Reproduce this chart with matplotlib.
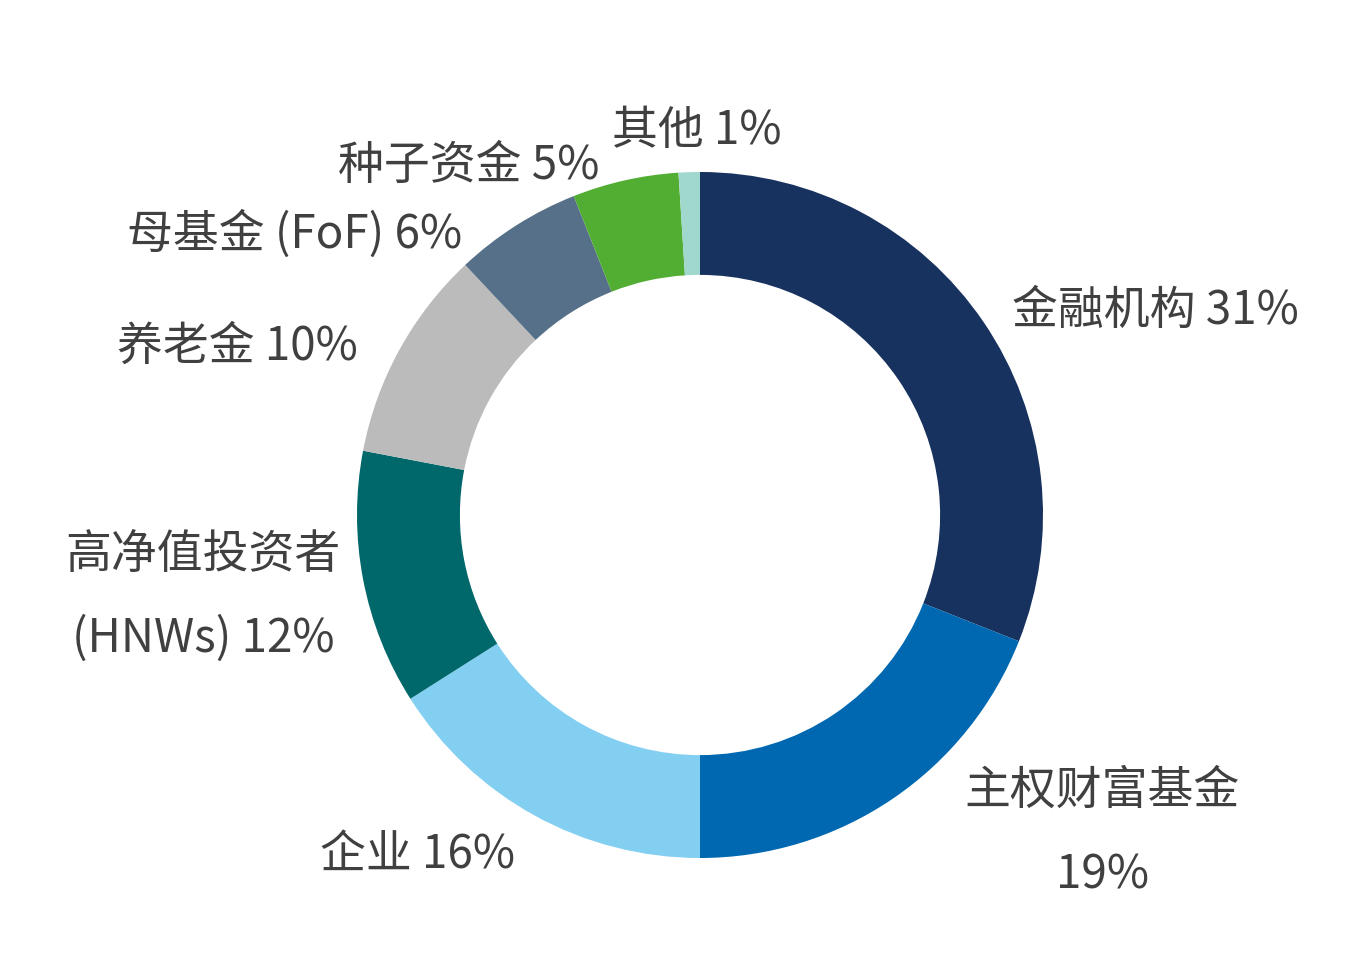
import matplotlib.pyplot as plt

plt.rcParams['font.family'] = ['Noto Sans CJK SC', 'DejaVu Sans']

categories = ['金融机构', '主权财富基金', '企业', '高净值投资者\n(HNWs)', '养老金',
              '母基金 (FoF)', '种子资金', '其他']
values = [31, 19, 16, 12, 10, 6, 5, 1]
colors = ['#17325F', '#0068B0', '#82CFF2', '#00676B', '#BBBBBB',
          '#557088', '#52AD33', '#A1D8CE']

# label anchor points in pixels (x, y from top) and alignment
label_pos = [(1012, 311, 'left'), (1102, 833, 'center'), (320, 855, 'left'),
             (203, 597, 'center'), (117, 346, 'left'), (127, 235, 'left'),
             (338, 166, 'left'), (612, 131, 'left')]

W, H = 1354, 968
cx, cy, r = 700, 515, 343

fig = plt.figure(figsize=(W / 100, H / 100), dpi=100)
ax = fig.add_axes([0, 0, 1, 1])

ax.pie(values, colors=colors, startangle=90, counterclock=False, radius=1,
       wedgeprops=dict(width=0.30, linewidth=0))

ax.set_xlim(-cx / r, (W - cx) / r)
ax.set_ylim(-(H - cy) / r, cy / r)
ax.set_aspect('equal')
ax.axis('off')

for cat, val, (px, py, ha) in zip(categories, values, label_pos):
    txt = f'{cat} {val}%'
    if cat == '主权财富基金':
        txt = f'{cat}\n{val}%'
    ax.text(px / W, 1 - py / H, txt, transform=fig.transFigure, ha=ha,
            va='center', fontsize=33, color='#404040', linespacing=1.95,
            multialignment='center')

fig.savefig('out.png', dpi=100)
